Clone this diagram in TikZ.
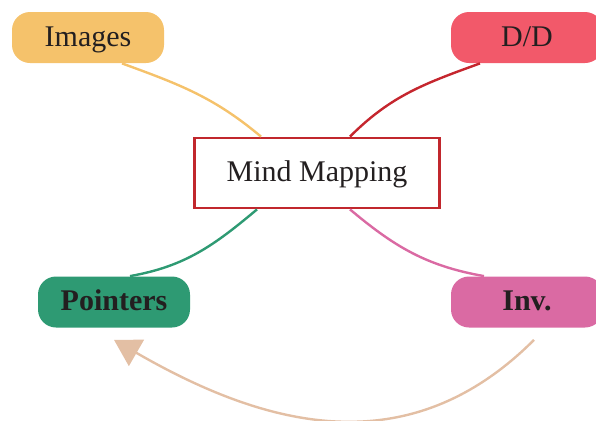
\documentclass[tikz,border=0pt]{standalone}
\usepackage{fontspec}
\setmainfont{Liberation Serif}
\usetikzlibrary{arrows.meta}
\definecolor{imgcol}{HTML}{F5C26B}
\definecolor{ddcol}{HTML}{F2596A}
\definecolor{ddline}{HTML}{C5262E}
\definecolor{ptrcol}{HTML}{2E9A73}
\definecolor{invcol}{HTML}{DA6AA3}
\definecolor{mindcol}{HTML}{C1272D}
\definecolor{arrcol}{HTML}{E3BFA4}
\definecolor{txtcol}{HTML}{231F20}

\begin{document}
\begin{tikzpicture}[x=0.5pt,y=0.5pt,
  label text/.style={text=txtcol,font=\fontsize{15}{18}\selectfont,text height=11.5pt,text depth=3pt},
  branch/.style={shape=rectangle,rounded corners=9pt,minimum width=76pt,minimum height=25.5pt,label text},
  link/.style={line width=1.2pt}]
\node(mind) at (317,247)[shape=rectangle,draw=mindcol,line width=1.4pt,minimum width=122.5pt,
  minimum height=35pt,label text] {Mind Mapping};
\node(images) at (88,382.5)[branch,fill=imgcol]          {Images};
\node(dd) at (527,382.5)[branch,fill=ddcol]              {D/D};
\node(pointers) at (114,118)[branch,fill=ptrcol,font=\fontsize{15}{18}\selectfont\bfseries] {Pointers};
\node(inv) at (527,118)[branch,fill=invcol,font=\fontsize{15}{18}\selectfont\bfseries]      {Inv.};
\path [link]
  ([xshift=17pt]images.south)   edge [draw=imgcol,out=-20,in=140]  ([xshift=-28pt]mind.north)
  ([xshift=-23.5pt]dd.south)    edge [draw=ddline,out=-160,in=45]  ([xshift=16.5pt]mind.north)
  ([xshift=8pt]pointers.north)  edge [draw=ptrcol,out=10,in=-140]  ([xshift=-30pt]mind.south)
  ([xshift=-21.5pt]inv.north)   edge [draw=invcol,out=170,in=-40]  ([xshift=16.5pt]mind.south)
  ([xshift=3.5pt,yshift=-6pt]inv.south) edge [draw=arrcol,out=-135,in=-30,looseness=1.08,
    -{Triangle[length=13pt,width=15pt]}] ([yshift=-6pt]pointers.south);
% fix the page to the reference size
\pgfresetboundingbox
\useasboundingbox (0,0) rectangle (596,420);
\end{tikzpicture}
\end{document}
